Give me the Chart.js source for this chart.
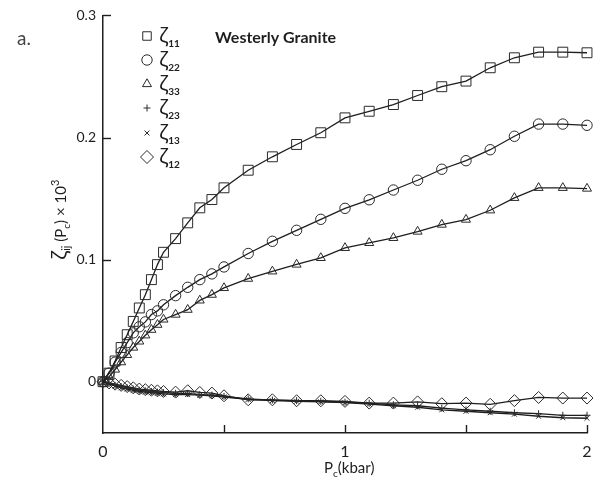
<!DOCTYPE html>
<html><head><meta charset="utf-8">
<script src="https://cdn.jsdelivr.net/npm/chart.js@4.4.0/dist/chart.umd.min.js"></script>
<style>html,body{margin:0;padding:0;background:#fff;}canvas{display:block;}</style>
</head><body>
<canvas id="c" width="602" height="484"></canvas>
<script>
// Confining pressure P_c (kbar)
const pressure = [0, 0.025, 0.05, 0.075, 0.1, 0.125, 0.15, 0.175, 0.2, 0.225, 0.25, 0.3, 0.35, 0.4, 0.45, 0.5, 0.6, 0.7, 0.8, 0.9, 1.0, 1.1, 1.2, 1.3, 1.4, 1.5, 1.6, 1.7, 1.8, 1.9, 2.0];
const zeta11 = [0, 0.007, 0.017, 0.028, 0.0385, 0.0494, 0.0604, 0.0713, 0.0836, 0.0959, 0.106, 0.1172, 0.1301, 0.1424, 0.1492, 0.1588, 0.1732, 0.1842, 0.1943, 0.2039, 0.2161, 0.2215, 0.2270, 0.2344, 0.2416, 0.2462, 0.2571, 0.2653, 0.2699, 0.2699, 0.2694];
const zeta22 = [0, 0.007, 0.016, 0.024, 0.032, 0.040, 0.045, 0.049, 0.055, 0.058, 0.063, 0.0705, 0.0773, 0.0836, 0.0883, 0.094, 0.105, 0.115, 0.124, 0.133, 0.142, 0.149, 0.157, 0.165, 0.174, 0.181, 0.190, 0.201, 0.211, 0.211, 0.210];
const zeta33 = [0, 0.004, 0.010, 0.016, 0.022, 0.028, 0.033, 0.038, 0.0426, 0.0467, 0.051, 0.055, 0.059, 0.0666, 0.0713, 0.0768, 0.0844, 0.0904, 0.096, 0.1014, 0.1096, 0.1137, 0.1178, 0.123, 0.1287, 0.1328, 0.1404, 0.1506, 0.1588, 0.1588, 0.1582];
const zeta23 = [0, -0.0015, -0.003, -0.004, -0.005, -0.006, -0.007, -0.0075, -0.008, -0.0085, -0.009, -0.0095, -0.0095, -0.0105, -0.011, -0.012, -0.014, -0.015, -0.0155, -0.016, -0.0168, -0.0176, -0.0189, -0.0197, -0.0217, -0.023, -0.0242, -0.0254, -0.0262, -0.0275, -0.0275];
const zeta13 = [0, -0.002, -0.0035, -0.005, -0.006, -0.007, -0.008, -0.0085, -0.009, -0.0095, -0.01, -0.0105, -0.0105, -0.011, -0.0115, -0.0125, -0.0145, -0.0155, -0.016, -0.0165, -0.0172, -0.0184, -0.0197, -0.0209, -0.023, -0.0242, -0.0254, -0.0266, -0.0283, -0.0295, -0.0299];
const zeta12 = [0, -0.001, -0.002, -0.003, -0.004, -0.005, -0.006, -0.0065, -0.007, -0.0075, -0.008, -0.0085, -0.0074, -0.0088, -0.0093, -0.0115, -0.0148, -0.0148, -0.0156, -0.0156, -0.0161, -0.0175, -0.0175, -0.0165, -0.018, -0.0175, -0.0185, -0.0155, -0.0129, -0.0134, -0.0134];
const seriesSubscripts = ['11', '22', '33', '23', '13', '12'];
const xTickValues = [0, 0.5, 1, 1.5, 2];
const xTickLabels = ['0', '', '1', '', '2'];
const yTickValues = [0, 0.1, 0.2, 0.3];
const yTickLabels = ['0', '0.1', '0.2', '0.3'];
const chartTitle = 'Westerly Granite';
const panelLabel = 'a.';

const INK = '#1e1e1e';
const seriesValues = [zeta11, zeta22, zeta33, zeta23, zeta13, zeta12];
const pointStyles = ['rect', 'circle', 'triangle', 'cross', 'crossRot', 'rectRot'];
const pointRadii = [7, 5.2, 5.2, 3.5, 3.5, 6];

const datasets = seriesValues.map((vals, k) => ({
  label: 'ζ' + seriesSubscripts[k],
  data: pressure.map((p, i) => ({x: p, y: vals[i]})),
  borderColor: INK,
  borderWidth: 1.3,
  tension: 0,
  fill: false,
  clip: false,
  pointStyle: pointStyles[k],
  pointRadius: pointRadii[k],
  pointBorderColor: '#2a2a2a',
  pointBorderWidth: 1,
  pointBackgroundColor: 'rgba(0,0,0,0)'
}));

function drawRich(ctx, segs, x, y) {
  let cx = x;
  segs.forEach(s => {
    ctx.font = s.f;
    ctx.fillText(s.t, cx, y + (s.dy || 0));
    cx += ctx.measureText(s.t).width;
  });
}

const decor = {
  id: 'decor',
  afterDraw(chart) {
    const ctx = chart.ctx;
    const xs = chart.scales.x, ys = chart.scales.y;
    const area = chart.chartArea;
    ctx.save();
    ctx.strokeStyle = INK;
    ctx.lineWidth = 1.4;
    // inward tick marks
    xTickValues.forEach(v => {
      if (v === 0) return;
      const px = Math.round(xs.getPixelForValue(v)) + 0.5;
      ctx.beginPath(); ctx.moveTo(px, area.bottom); ctx.lineTo(px, area.bottom - 8); ctx.stroke();
    });
    yTickValues.forEach(v => {
      if (v === 0) return;
      const py = Math.round(ys.getPixelForValue(v)) + 0.5;
      ctx.beginPath(); ctx.moveTo(area.left, py); ctx.lineTo(area.left + 8, py); ctx.stroke();
    });
    ctx.fillStyle = INK;
    ctx.textAlign = 'left';
    ctx.textBaseline = 'alphabetic';
    // panel label and title
    ctx.fillStyle = '#444';
    ctx.font = '19px Lato';
    ctx.fillText(panelLabel, 17, 45);
    ctx.fillStyle = INK;
    ctx.font = 'bold 16px Lato';
    ctx.fillText(chartTitle, 215, 43);
    // x axis title
    drawRich(ctx, [
      {t: 'P', f: '15px Lato'},
      {t: 'c', f: '10px Lato', dy: 4},
      {t: '(kbar)', f: '15px Lato'}
    ], 324, 473);
    // y axis title (rotated)
    ctx.save();
    ctx.translate(66, 260);
    ctx.rotate(-Math.PI / 2);
    drawRich(ctx, [
      {t: 'ζ', f: '20px "Noto Sans"'},
      {t: 'ij', f: '11px Lato', dy: 4},
      {t: ' (P', f: '15px Lato'},
      {t: 'c', f: '10px Lato', dy: 4},
      {t: ')', f: '15px Lato'},
      {t: ' × 10', f: '15px Lato'},
      {t: '3', f: '11px Lato', dy: -7}
    ], 0, 0);
    ctx.restore();
    // legend
    const rows = [36, 60, 84, 108, 133, 157];
    const legendRadii = [6, 5.2, 5.2, 3.5, 3.5, 6.5];
    chart.data.datasets.forEach((ds, k) => {
      const y = rows[k];
      ctx.strokeStyle = '#2a2a2a';
      ctx.fillStyle = 'rgba(0,0,0,0)';
      ctx.lineWidth = 1;
      Chart.helpers.drawPoint(ctx, {pointStyle: ds.pointStyle, radius: legendRadii[k], borderWidth: 1, rotation: 0}, 147, y);
      ctx.fillStyle = INK;
      drawRich(ctx, [
        {t: 'ζ', f: '20px "Noto Sans"'},
        {t: seriesSubscripts[k], f: 'bold 10px Lato', dy: 5}
      ], 159, y + 6);
    });
    ctx.restore();
  }
};

new Chart(document.getElementById('c'), {
  type: 'line',
  data: {datasets},
  options: {
    responsive: false,
    animation: false,
    devicePixelRatio: 1,
    layout: {padding: {top: 15, right: 15, left: 0, bottom: 0}},
    plugins: {legend: {display: false}, tooltip: {enabled: false}},
    scales: {
      x: {
        type: 'linear', min: 0, max: 2,
        afterFit(s) { s.height = 51; },
        afterBuildTicks(s) { s.ticks = xTickValues.map(v => ({value: v})); },
        ticks: {callback: (v, i) => xTickLabels[i], font: {family: 'Lato', size: 16}, color: INK, padding: 9, maxRotation: 0, autoSkip: false},
        grid: {display: false, drawTicks: false},
        border: {display: true, color: INK, width: 1.5}
      },
      y: {
        type: 'linear', min: -0.042, max: 0.3,
        afterFit(s) { s.width = 103; },
        afterBuildTicks(s) { s.ticks = yTickValues.map(v => ({value: v})); },
        ticks: {callback: (v, i) => yTickLabels[i], font: {family: 'Lato', size: 14}, color: INK, padding: 7, autoSkip: false},
        grid: {display: false, drawTicks: false},
        border: {display: true, color: INK, width: 1.5}
      }
    }
  },
  plugins: [decor]
});
</script>
</body></html>
